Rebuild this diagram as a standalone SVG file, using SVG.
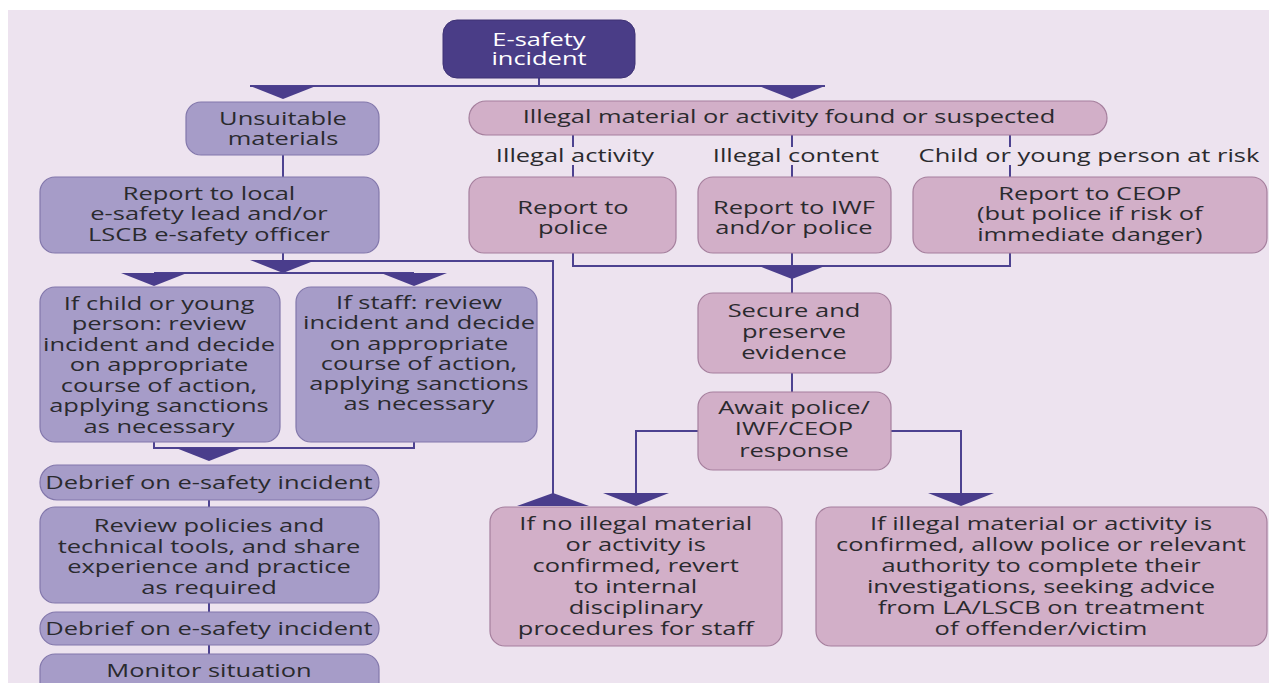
<svg xmlns="http://www.w3.org/2000/svg" width="1269" height="683" viewBox="0 0 1269 683">
<style>
.bg{fill:#ede3ef}
.dark{fill:#4a3d87;stroke:#3e3275;stroke-width:1}
.pur{fill:#a69cc8;stroke:#8277ab;stroke-width:1.2}
.pink{fill:#d2afc8;stroke:#a57f9d;stroke-width:1.2}
.conn{fill:none;stroke:#4d4290;stroke-width:2}
.arr{fill:#4a3d8c}
text{font-family:"Open Sans","Noto Sans","DejaVu Sans",sans-serif;font-size:19px;fill:#2a2a2e;text-anchor:middle;transform-box:fill-box;transform-origin:center;transform:scaleX(1.34)}
text.w{fill:#ffffff}
</style>
<defs>
<polygon id="tdown" points="-33,0 33,0 0,13"/>
<polygon id="tup" points="-36,13 36,13 0,0"/>
</defs>
<rect class="bg" x="8" y="10" width="1261" height="673"/>

<g id="connectors">
<path class="conn" d="M539,78 V86 M250,86 H825"/>
<use href="#tdown" class="arr" x="283" y="86"/>
<use href="#tdown" class="arr" x="792" y="86"/>
<path class="conn" d="M283,155 V177"/>
<path class="conn" d="M283,253 V261 H553 V494"/>
<use href="#tdown" class="arr" x="283" y="260"/>
<path class="conn" d="M154,273 H414"/>
<use href="#tdown" class="arr" x="154" y="273"/>
<use href="#tdown" class="arr" x="414" y="273"/>
<path class="conn" d="M154,442 V448 H414 V442"/>
<use href="#tdown" class="arr" x="209" y="448"/>
<path class="conn" d="M209,500 V507 M209,603 V612 M209,645 V654"/>
<use href="#tup" class="arr" x="553" y="493"/>
<path class="conn" d="M573,135 V147 M573,165 V177 M792,135 V147 M792,165 V177 M1010,135 V147 M1010,165 V177"/>
<path class="conn" d="M573,253 V266 H1010 V253 M792,253 V266 M792,278 V293 M792,373 V392"/>
<use href="#tdown" class="arr" x="792" y="266"/>
<path class="conn" d="M698,431 H636 V494 M891,431 H961 V494"/>
<use href="#tdown" class="arr" x="636" y="493"/>
<use href="#tdown" class="arr" x="961" y="493"/>
</g>

<g id="n-incident">
<rect class="dark" x="443" y="20" width="192" height="58" rx="14"/>
<text class="w" x="539" y="46">E-safety<tspan x="539" dy="19">incident</tspan></text>
</g>

<g id="n-unsuitable">
<rect class="pur" x="186" y="102" width="193" height="53" rx="15"/>
<text x="283" y="125">Unsuitable<tspan x="283" dy="20">materials</tspan></text>
</g>

<g id="n-illegal">
<rect class="pink" x="469" y="101" width="638" height="34" rx="17"/>
<text x="789" y="123">Illegal material or activity found or suspected</text>
</g>

<g id="labels">
<text x="575" y="162">Illegal activity</text>
<text x="796" y="162">Illegal content</text>
<text x="1089" y="162">Child or young person at risk</text>
</g>

<g id="n-police">
<rect class="pink" x="469" y="177" width="207" height="76" rx="15"/>
<text x="573" y="214">Report to<tspan x="573" dy="20">police</tspan></text>
</g>

<g id="n-iwf">
<rect class="pink" x="698" y="177" width="193" height="76" rx="15"/>
<text x="794" y="214">Report to IWF<tspan x="794" dy="20">and/or police</tspan></text>
</g>

<g id="n-ceop">
<rect class="pink" x="913" y="177" width="354" height="76" rx="15"/>
<text x="1090" y="200">Report to CEOP<tspan x="1090" dy="20.5">(but police if risk of</tspan><tspan x="1090" dy="20.5">immediate danger)</tspan></text>
</g>

<g id="n-report-local">
<rect class="pur" x="40" y="177" width="339" height="76" rx="15"/>
<text x="209" y="200">Report to local<tspan x="209" dy="20.5">e-safety lead and/or</tspan><tspan x="209" dy="20.5">LSCB e-safety officer</tspan></text>
</g>

<g id="n-child">
<rect class="pur" x="40" y="287" width="240" height="155" rx="15"/>
<text x="159" y="310">If child or young<tspan x="159" dy="20.5">person: review</tspan><tspan x="159" dy="20.5">incident and decide</tspan><tspan x="159" dy="20.5">on appropriate</tspan><tspan x="159" dy="20.5">course of action,</tspan><tspan x="159" dy="20.5">applying sanctions</tspan><tspan x="159" dy="20.5">as necessary</tspan></text>
</g>

<g id="n-staff">
<rect class="pur" x="296" y="287" width="241" height="155" rx="15"/>
<text x="419" y="309">If staff: review<tspan x="419" dy="20.3">incident and decide</tspan><tspan x="419" dy="20.3">on appropriate</tspan><tspan x="419" dy="20.3">course of action,</tspan><tspan x="419" dy="20.3">applying sanctions</tspan><tspan x="419" dy="20.3">as necessary</tspan></text>
</g>

<g id="n-secure">
<rect class="pink" x="698" y="293" width="193" height="80" rx="15"/>
<text x="794" y="317">Secure and<tspan x="794" dy="21">preserve</tspan><tspan x="794" dy="21">evidence</tspan></text>
</g>

<g id="n-await">
<rect class="pink" x="698" y="392" width="193" height="78" rx="15"/>
<text x="794" y="414">Await police/<tspan x="794" dy="21.5">IWF/CEOP</tspan><tspan x="794" dy="21.5">response</tspan></text>
</g>

<g id="n-debrief1">
<rect class="pur" x="40" y="465" width="339" height="35" rx="17"/>
<text x="209" y="489">Debrief on e-safety incident</text>
</g>

<g id="n-review">
<rect class="pur" x="40" y="507" width="339" height="96" rx="15"/>
<text x="209" y="532">Review policies and<tspan x="209" dy="20.7">technical tools, and share</tspan><tspan x="209" dy="20.7">experience and practice</tspan><tspan x="209" dy="20.7">as required</tspan></text>
</g>

<g id="n-debrief2">
<rect class="pur" x="40" y="612" width="339" height="33" rx="16"/>
<text x="209" y="635">Debrief on e-safety incident</text>
</g>

<g id="n-monitor">
<rect class="pur" x="40" y="654" width="339" height="50" rx="15"/>
<text x="209" y="677">Monitor situation</text>
</g>

<g id="n-no-illegal">
<rect class="pink" x="490" y="507" width="292" height="139" rx="15"/>
<text x="636" y="530">If no illegal material<tspan x="636" dy="21">or activity is</tspan><tspan x="636" dy="21">confirmed, revert</tspan><tspan x="636" dy="21">to internal</tspan><tspan x="636" dy="21">disciplinary</tspan><tspan x="636" dy="21">procedures for staff</tspan></text>
</g>

<g id="n-confirmed">
<rect class="pink" x="816" y="507" width="451" height="139" rx="15"/>
<text x="1041" y="530">If illegal material or activity is<tspan x="1041" dy="21">confirmed, allow police or relevant</tspan><tspan x="1041" dy="21">authority to complete their</tspan><tspan x="1041" dy="21">investigations, seeking advice</tspan><tspan x="1041" dy="21">from LA/LSCB on treatment</tspan><tspan x="1041" dy="21">of offender/victim</tspan></text>
</g>
</svg>
